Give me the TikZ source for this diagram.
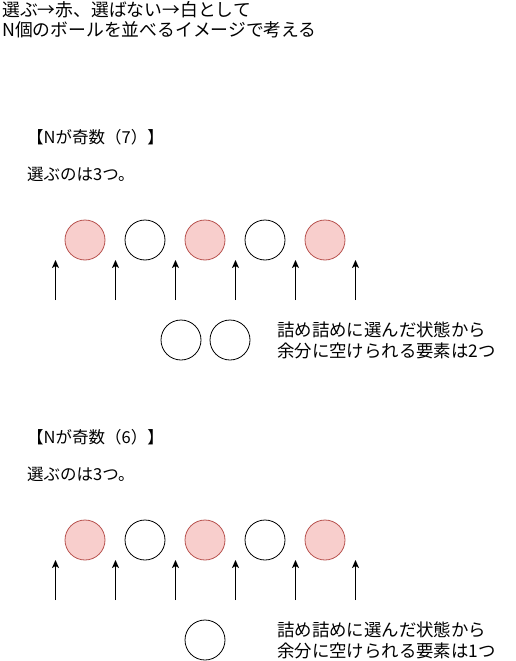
\documentclass[tikz,border=0pt]{standalone}
\usepackage{fontspec}
\setmainfont{Noto Sans CJK JP}
\usetikzlibrary{arrows.meta}
\definecolor{redfill}{HTML}{F8CECC}
\definecolor{redline}{HTML}{B85450}
\tikzset{
  redball/.style={circle, minimum size=40pt, inner sep=0pt, draw=redline, fill=redfill, line width=0.8pt},
  whiteball/.style={circle, minimum size=40pt, inner sep=0pt, draw=black, fill=white, line width=0.8pt},
  uparrow/.style={-{Stealth[length=8pt,width=7pt,inset=2pt]}, line width=0.9pt},
  toptext/.style={inner sep=0pt, anchor=west, align=left, font=\fontsize{17.8}{20}\selectfont},
  bigtext/.style={inner sep=0pt, anchor=west, align=left, font=\fontsize{17.4}{21}\selectfont},
  headtext/.style={inner sep=0pt, anchor=west, align=left, font=\fontsize{16.5}{18}\selectfont},
}
\begin{document}
\begin{tikzpicture}[x=1pt,y=-1pt]
\useasboundingbox (0,0) rectangle (516,661);
\fill[white] (0,0) rectangle (516,661);
% top text
\node[toptext] (title1) at (2,9.5) {選ぶ→赤、選ばない→白として};
\node[toptext] (title2) at (2,29.5) {N個のボールを並べるイメージで考える};

\foreach \off/\num/\k in {0/7/a, 300/6/b} {
  \node[headtext] (head\k) at (27,{137.5+\off}) {【Nが奇数（\num）】};
  \node[headtext] (sel\k) at (27,{174+\off}) {選ぶのは3つ。};
  \node[redball]   (\k b1) at (85,{240+\off}) {};
  \node[whiteball] (\k b2) at (145,{240+\off}) {};
  \node[redball]   (\k b3) at (205,{240+\off}) {};
  \node[whiteball] (\k b4) at (265,{240+\off}) {};
  \node[redball]   (\k b5) at (325,{240+\off}) {};
  \foreach \i/\xx in {1/55.5,2/115.5,3/175.5,4/235.5,5/295.5,6/355.5} {
    \coordinate (\k s\i) at (\xx,{300+\off});
    \coordinate (\k e\i) at (\xx,{260+\off});
    \draw[uparrow] (\k s\i) -- (\k e\i);
  }
}
% spare circles
\node[whiteball] (spa1) at (181,340) {};
\node[whiteball] (spa2) at (230,340) {};
\node[bigtext] (expa) at (277,340.5) {詰め詰めに選んだ状態から\\余分に空けられる要素は2つ};

\node[whiteball] (spb1) at (205,640) {};
\node[bigtext] (expb) at (277,640.5) {詰め詰めに選んだ状態から\\余分に空けられる要素は1つ};
\end{tikzpicture}
\end{document}
